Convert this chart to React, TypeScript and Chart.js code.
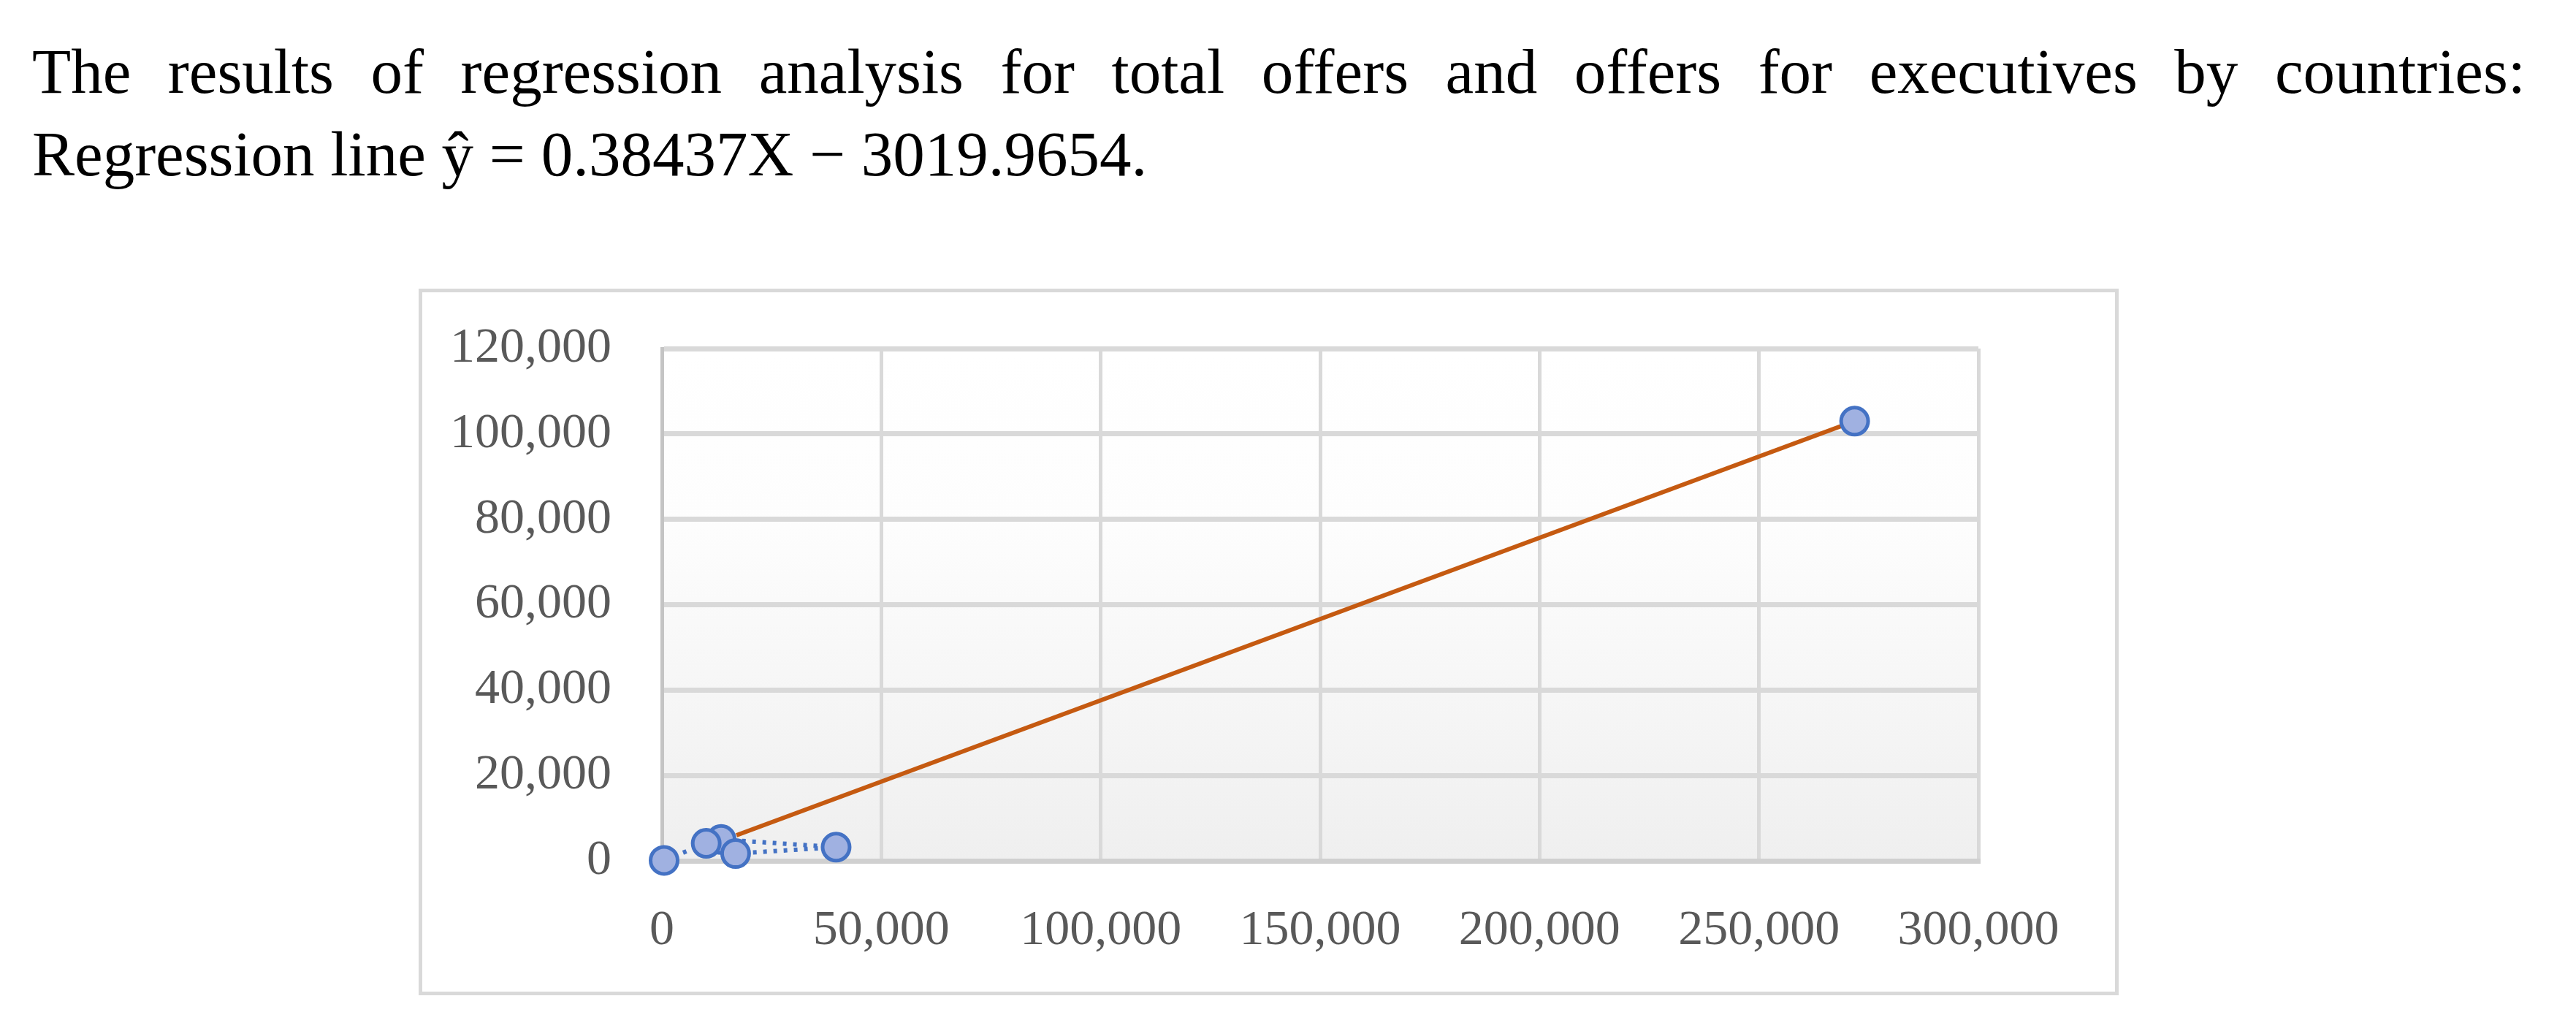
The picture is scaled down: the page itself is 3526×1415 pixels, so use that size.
import React, { useEffect, useRef } from "react";
import { Chart, registerables } from "chart.js";

Chart.register(...registerables);

const titleLine1 =
  "The results of regression analysis for total offers and offers for executives by countries:";
const titleLine2 = "Regression line \u0177 = 0.38437X \u2212 3019.9654.";

// Observations (total offers, offers for executives), in drawing order
const totalOffers = [500, 13500, 10100, 16800, 39700, 271800];
const executiveOffers = [100, 5000, 4100, 1700, 3200, 103000];
// sequence of the dotted connector between observations (indexes above)
const connectorOrder = [0, 2, 1, 4, 3];

// fitted regression line as drawn
const trendX = [17000, 271800];
const trendY = [6000, 103000];

const xTicks = [0, 50000, 100000, 150000, 200000, 250000, 300000];
const yTicks = [0, 20000, 40000, 60000, 80000, 100000, 120000];

const fmt = (v: number) => Number(v).toLocaleString("en-US");

const plotBackground = {
  id: "plotBackground",
  beforeDraw(chart: any) {
    const { ctx, chartArea } = chart;
    if (!chartArea) return;
    const g = ctx.createLinearGradient(0, chartArea.top, 0, chartArea.bottom);
    g.addColorStop(0, "#FFFFFF");
    g.addColorStop(0.35, "#FDFDFD");
    g.addColorStop(1, "#EFEFEF");
    ctx.save();
    ctx.fillStyle = g;
    ctx.fillRect(chartArea.left, chartArea.top, chartArea.right - chartArea.left, chartArea.bottom - chartArea.top);
    ctx.restore();
  },
};

function RegressionChart() {
  const ref = useRef<HTMLCanvasElement | null>(null);
  useEffect(() => {
    if (!ref.current) return;
    const points = totalOffers.map((x, i) => ({ x, y: executiveOffers[i] }));
    const connector = connectorOrder.map((i) => ({ x: totalOffers[i], y: executiveOffers[i] }));
    const trend = trendX.map((x, i) => ({ x, y: trendY[i] }));
    const tickFont = { family: "'Liberation Serif', 'Times New Roman', serif", size: 68 };
    const chart = new Chart(ref.current, {
      type: "scatter",
      data: {
        datasets: [
          {
            data: points,
            pointRadius: 18.5,
            pointHoverRadius: 18.5,
            pointBorderWidth: 5,
            pointBackgroundColor: "#A0B1E1",
            pointBorderColor: "#4472C4",
            showLine: false,
            clip: false,
          },
          {
            data: trend,
            showLine: true,
            pointRadius: 0,
            borderColor: "#C55A11",
            borderWidth: 6,
            clip: false,
          },
          {
            data: connector,
            showLine: true,
            pointRadius: 0,
            borderColor: "#4472C4",
            borderWidth: 6,
            borderDash: [5, 9],
            clip: false,
          },
        ],
      } as any,
      options: {
        responsive: false,
        animation: false,
        events: [],
        layout: { padding: { left: 0, top: 77, right: 187, bottom: 0 } },
        plugins: { legend: { display: false }, tooltip: { enabled: false } },
        scales: {
          x: {
            type: "linear",
            min: xTicks[0],
            max: xTicks[xTicks.length - 1],
            afterBuildTicks: (s: any) => {
              s.ticks = xTicks.map((v) => ({ value: v }));
            },
            afterFit: (s: any) => {
              s.height = 179;
              s.paddingLeft = 0;
              s.paddingRight = 0;
            },
            grid: { color: "#D9D9D9", lineWidth: 5, drawTicks: false },
            border: { color: "#D0D0D0", width: 7 },
            ticks: { font: tickFont, color: "#595959", padding: 55, maxRotation: 0, callback: (v: any) => fmt(v) },
          },
          y: {
            type: "linear",
            min: yTicks[0],
            max: yTicks[yTicks.length - 1],
            afterBuildTicks: (s: any) => {
              s.ticks = yTicks.map((v) => ({ value: v }));
            },
            afterFit: (s: any) => {
              s.width = 328;
              s.paddingTop = 0;
              s.paddingBottom = 0;
            },
            grid: { color: "#D9D9D9", lineWidth: 7, drawTicks: false },
            border: { color: "#C4C4C4", width: 5 },
            ticks: { font: tickFont, color: "#595959", padding: 69, callback: (v: any) => fmt(v) },
          },
        },
      } as any,
      plugins: [plotBackground],
    });
    return () => chart.destroy();
  }, []);
  return <canvas ref={ref} width={2317} height={957} style={{ display: "block" }} />;
}

export default function App() {
  const textStyle: React.CSSProperties = {
    position: "absolute",
    left: 44,
    fontFamily: "'Liberation Serif', 'Times New Roman', serif",
    fontSize: 87,
    lineHeight: "113px",
    color: "#000",
    whiteSpace: "normal",
  };
  return (
    <div style={{ position: "absolute", left: 0, top: 0, width: 3526, height: 1415, background: "#fff", overflow: "hidden" }}>
      <div style={{ ...textStyle, top: 41, width: 3413, textAlign: "justify", textAlignLast: "justify" }}>{titleLine1}</div>
      <div style={{ ...textStyle, top: 154 }}>{titleLine2}</div>
      <div
        style={{
          position: "absolute",
          left: 573,
          top: 395,
          width: 2327,
          height: 967,
          boxSizing: "border-box",
          border: "5px solid #D9D9D9",
          background: "#fff",
        }}
      >
        <RegressionChart />
      </div>
    </div>
  );
}
